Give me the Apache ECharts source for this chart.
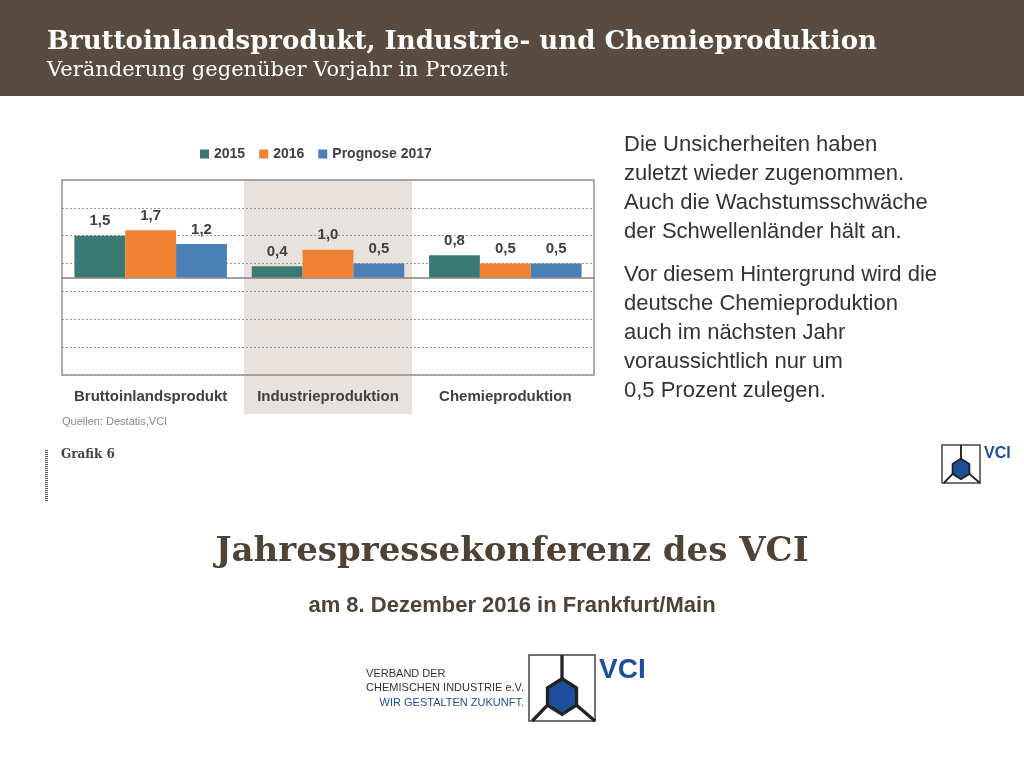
<!DOCTYPE html>
<html><head><meta charset="utf-8">
<script src="https://cdn.jsdelivr.net/npm/echarts@6/dist/echarts.min.js"></script>
<style>html,body{margin:0;padding:0;background:#fff}#c{width:1024px;height:768px}</style>
</head><body><div id="c"></div>
<script>
const categories = ['Bruttoinlandsprodukt', 'Industrieproduktion', 'Chemieproduktion'];
const seriesNames = ['2015', '2016', 'Prognose 2017'];
const v2015 = [1.5, 0.4, 0.8];
const v2016 = [1.7, 1.0, 0.5];
const v2017 = [1.2, 0.5, 0.5];
const colors = ['#3b7a74', '#ef8234', '#4b80b6'];

const chart = echarts.init(document.getElementById('c'));
const serif = '"DejaVu Serif", serif';
const sans = '"Liberation Sans", Arial, sans-serif';

function bar(name, data, color) {
  return {
    name: name, type: 'bar', data: data, barGap: 0, barCategoryGap: '14%',
    itemStyle: { color: color },
    label: { show: true, position: 'top', distance: 7, color: '#404040', fontSize: 15, fontWeight: 'bold', fontFamily: sans,
      formatter: p => p.value.toFixed(1).replace('.', ',') }
  };
}

// VCI logo mark: square with hexagon lines
function logo(x, y, s) {
  return [
    { type: 'rect', shape: { x: x, y: y, width: s, height: s }, style: { fill: '#fff', stroke: '#444', lineWidth: 1.5 } },
    { type: 'polygon', shape: { points: [[x + s*0.5, y + s*0.36], [x + s*0.72, y + s*0.5], [x + s*0.72, y + s*0.76], [x + s*0.5, y + s*0.9], [x + s*0.28, y + s*0.76], [x + s*0.28, y + s*0.5]] },
      style: { fill: '#1d4f9c', stroke: '#222', lineWidth: s*0.05 } },
    { type: 'line', shape: { x1: x + s*0.5, y1: y, x2: x + s*0.5, y2: y + s*0.36 }, style: { stroke: '#222', lineWidth: s*0.05 } },
    { type: 'line', shape: { x1: x + s*0.72, y1: y + s*0.76, x2: x + s, y2: y + s }, style: { stroke: '#222', lineWidth: s*0.05 } },
    { type: 'line', shape: { x1: x + s*0.28, y1: y + s*0.76, x2: x + s*0.05, y2: y + s }, style: { stroke: '#222', lineWidth: s*0.05 } },
    { type: 'text', left: x + s + 4, top: y + 1, style: { text: 'VCI', fill: '#1d4f9c', font: 'bold ' + Math.round(s*0.42) + 'px ' + sans } }
  ];
}

const ticks = [];
for (let i = 0; i < 26; i++) ticks.push({ type: 'rect', shape: { x: 45, y: 450 + i * 2, width: 3, height: 1 }, style: { fill: '#555' } });

chart.setOption({
  animation: false,
  legend: { top: 142, left: 195, itemWidth: 9, itemHeight: 9, itemGap: 14, icon: 'rect',
    textStyle: { fontSize: 14, fontWeight: 'bold', color: '#404040', fontFamily: sans }, data: seriesNames },
  grid: { left: 62, top: 180, width: 532, height: 195, show: true, borderColor: '#9a9088', borderWidth: 1.5, containLabel: false },
  xAxis: { type: 'category', data: categories,
    axisLine: { onZero: true, lineStyle: { color: '#8a8078', width: 1.5 } }, axisTick: { show: false },
    axisLabel: { margin: 14, color: '#404040', fontSize: 15, fontWeight: 'bold', fontFamily: sans, interval: 0 } },
  yAxis: { type: 'value', min: -3.5, max: 3.5, interval: 1, axisLabel: { show: false }, axisLine: { show: false }, axisTick: { show: false },
    splitLine: { lineStyle: { color: '#999', type: [2, 2], width: 1 } } },
  series: [bar(seriesNames[0], v2015, colors[0]), bar(seriesNames[1], v2016, colors[1]), bar(seriesNames[2], v2017, colors[2])],
  graphic: [
    { type: 'rect', z: -10, shape: { x: 244, y: 180, width: 168, height: 234 }, style: { fill: '#e7e2dd' } },
    { type: 'rect', shape: { x: 0, y: 0, width: 1024, height: 96 }, style: { fill: '#594b3f' } },
    { type: 'text', left: 47, top: 29, style: { text: 'Bruttoinlandsprodukt, Industrie- und Chemieproduktion', fill: '#fff', font: 'bold 26px ' + serif } },
    { type: 'text', left: 47, top: 60, style: { text: 'Veränderung gegenüber Vorjahr in Prozent', fill: '#fff', font: '21px ' + serif } },
    { type: 'text', left: 62, top: 416, style: { text: 'Quellen: Destatis,VCI', fill: '#888', font: '11px ' + sans } },
    { type: 'text', left: 61, top: 449, style: { text: 'Grafik 6', fill: '#444', font: 'bold 12px ' + serif } },
    { type: 'text', left: 624, top: 130, style: { text: 'Die Unsicherheiten haben\nzuletzt wieder zugenommen.\nAuch die Wachstumsschwäche\nder Schwellenländer hält an.', fill: '#333', font: '22px ' + sans, lineHeight: 29 } },
    { type: 'text', left: 624, top: 260, style: { text: 'Vor diesem Hintergrund wird die\ndeutsche Chemieproduktion\nauch im nächsten Jahr\nvoraussichtlich nur um\n0,5 Prozent zulegen.', fill: '#333', font: '22px ' + sans, lineHeight: 29 } },
    { type: 'text', left: 'center', top: 535, style: { text: 'Jahrespressekonferenz des VCI', fill: '#4f4338', font: 'bold 34px ' + serif } },
    { type: 'text', left: 'center', top: 595, style: { text: 'am 8. Dezember 2016 in Frankfurt/Main', fill: '#4f4338', font: 'bold 22px ' + sans } },
    { type: 'text', right: 500, top: 667, style: { text: 'VERBAND DER\nCHEMISCHEN INDUSTRIE e.V.', fill: '#333', font: '11px ' + sans, lineHeight: 14, align: 'left' } },
    { type: 'text', right: 500, top: 697, style: { text: 'WIR GESTALTEN ZUKUNFT.', fill: '#1d4f9c', font: '11px ' + sans } },
    ...logo(942, 445, 38),
    ...logo(529, 655, 66),
    ...ticks
  ]
});
</script></body></html>
